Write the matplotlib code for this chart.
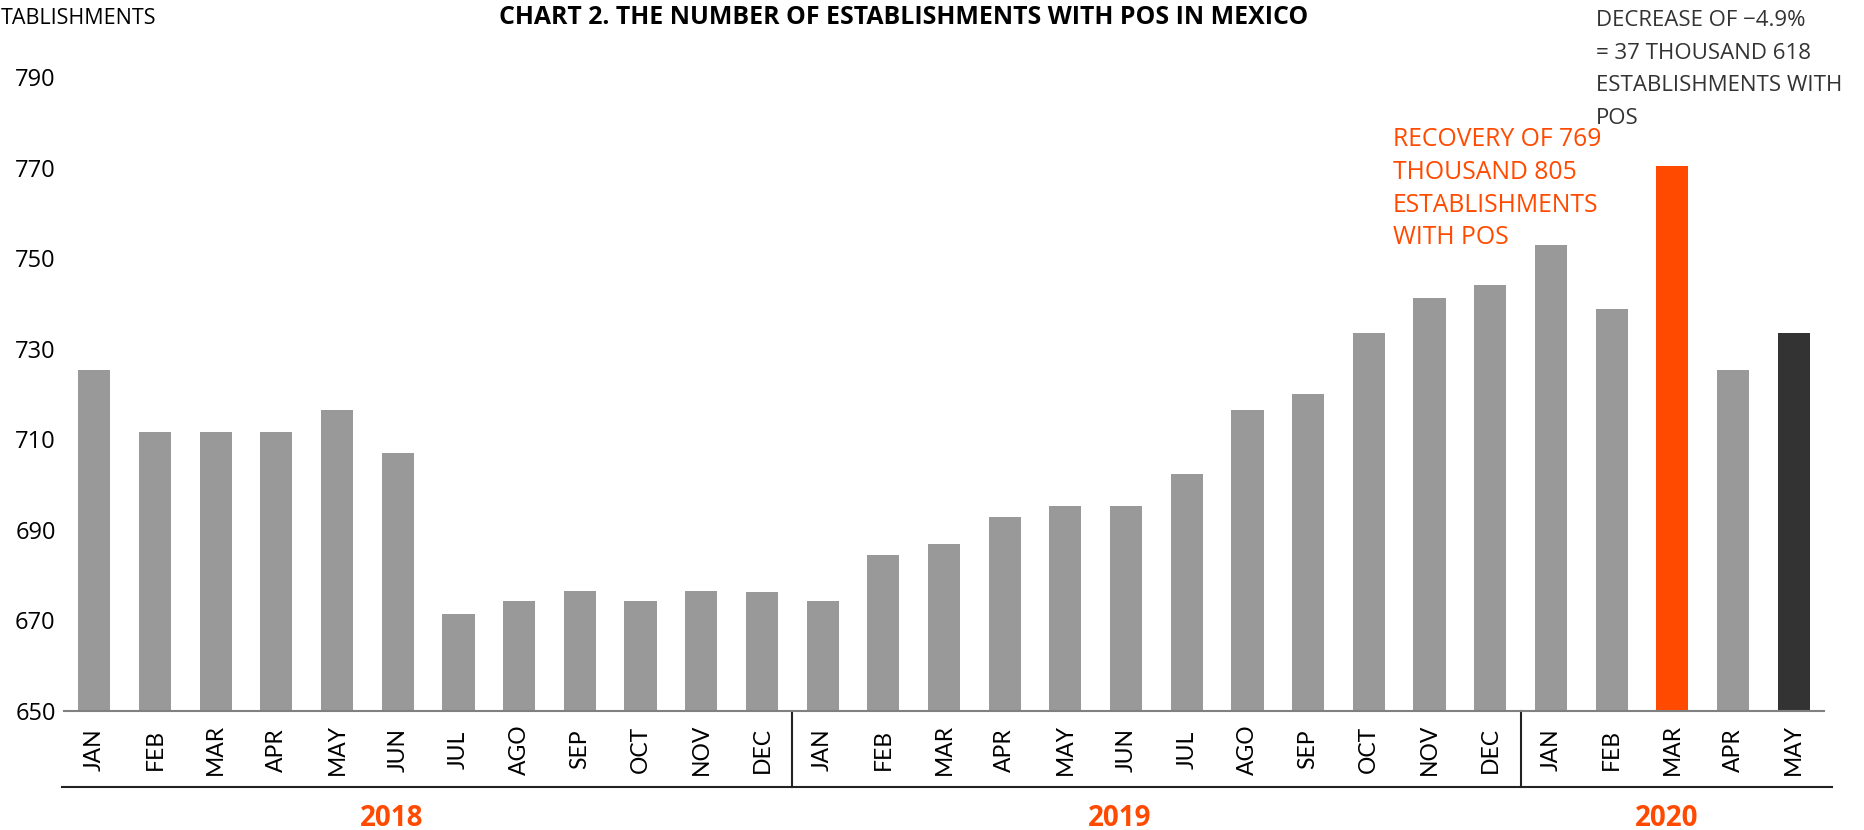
import numpy as np
from matplotlib import pyplot as plt
from matplotlib.transforms import blended_transform_factory

# monthly number of establishments with POS (thousands)
months = ['JAN', 'FEB', 'MAR', 'APR', 'MAY', 'JUN',
          'JUL', 'AGO', 'SEP', 'OCT', 'NOV', 'DEC']
vals_2018 = [725.4, 711.7, 711.7, 711.7, 716.5, 707.0,
             671.5, 674.2, 676.5, 674.2, 676.5, 676.3]
vals_2019 = [674.2, 684.4, 686.8, 692.8, 695.2, 695.2,
             702.3, 716.5, 720.1, 733.5, 741.1, 744.0]
vals_2020 = [753.0, 738.8, 770.3, 725.4, 733.5]
years = ['2018', '2019', '2020']
year_pos = [4.9, 16.9, 25.9]
yticks = [650, 670, 690, 710, 730, 750, 770, 790]

values = vals_2018 + vals_2019 + vals_2020
labels = months + months + months[:5]

GRAY = '#999999'
ORANGE = '#ff4a00'
DARK = '#333333'
FONT = 'Open Sans'

colors = [GRAY] * len(values)
colors[-3] = ORANGE   # mar 2020
colors[-1] = DARK     # may 2020

fig = plt.figure(figsize=(18.64, 8.30), dpi=100)
ax = fig.add_axes([64 / 1864, 119 / 830, 1760 / 1864, 634 / 830])

x = np.arange(len(values))
ax.bar(x, values, width=0.53, color=colors, zorder=2)

ax.set_xlim(-0.5, len(values) - 0.5)
ax.set_ylim(650, 790)
ax.set_yticks(yticks)
ax.set_yticklabels([str(t) for t in yticks], fontsize=17, family=FONT)
ax.tick_params(axis='y', length=0, pad=6)
ax.set_xticks([])
for s in ['top', 'right', 'left']:
    ax.spines[s].set_visible(False)
ax.spines['bottom'].set_color('#808080')
ax.spines['bottom'].set_linewidth(1.5)

# month labels and year groups under the axis
trans = blended_transform_factory(ax.transData, ax.transAxes)
for i, lab in enumerate(labels):
    ax.text(i, -0.061, lab, transform=trans, rotation=90, ha='center',
            va='center', fontsize=16.5, family='Lato')
for yr, p in zip(years, year_pos):
    ax.text(p, -0.169, yr, transform=trans, ha='center', va='center',
            fontsize=20, fontweight='bold', color=ORANGE, family=FONT)

ax.plot([-0.53, 28.64], [-0.12, -0.12], transform=trans, color='#222222',
        lw=1.5, clip_on=False)
for sep in [11.5, 23.5]:
    ax.plot([sep, sep], [0, -0.12], transform=trans, color='#222222',
            lw=1.5, clip_on=False)

# titles and annotations
fig.text(904 / 1864, 1 - 18 / 830,
         'CHART 2. THE NUMBER OF ESTABLISHMENTS WITH POS IN MEXICO',
         ha='center', va='center', fontsize=17.9, fontweight='bold',
         family=FONT)
fig.text(1 / 1864, 1 - 18 / 830, 'TABLISHMENTS', ha='left', va='center',
         fontsize=15.5, family=FONT)
fig.text(1596 / 1864, 1 - 10 / 830,
         'DECREASE OF \u22124.9%\n= 37 THOUSAND 618\nESTABLISHMENTS WITH\nPOS',
         ha='left', va='top', fontsize=16, color=DARK, family=FONT,
         linespacing=1.72)
fig.text(1393 / 1864, 1 - 127 / 830,
         'RECOVERY OF 769\nTHOUSAND 805\nESTABLISHMENTS\nWITH POS',
         ha='left', va='top', fontsize=17.8, color=ORANGE, family=FONT,
         linespacing=1.41)

fig.savefig('out.png', dpi=100)
